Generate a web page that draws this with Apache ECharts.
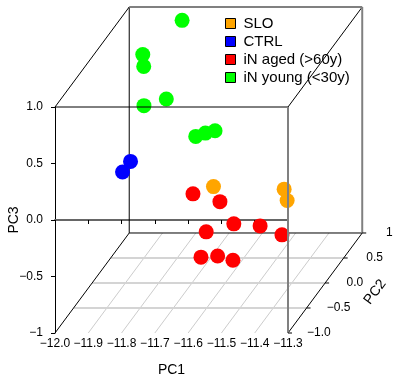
<!DOCTYPE html>
<html>
<head>
<meta charset="utf-8">
<script src="https://cdn.jsdelivr.net/npm/echarts@6/dist/echarts.min.js"></script>
<style>
html, body { margin: 0; padding: 0; background: #fff; }
#chart { width: 393px; height: 381px; }
</style>
</head>
<body>
<div id="chart"></div>
<script>
// axis ticks
var pc1Ticks = [-12.0, -11.9, -11.8, -11.7, -11.6, -11.5, -11.4, -11.3];
var pc2Ticks = [-1.0, -0.5, 0.0, 0.5, 1.0];
var pc3Ticks = [-1.0, -0.5, 0.0, 0.5, 1.0];

var groups = ['SLO', 'CTRL', 'iN aged (>60y)', 'iN young (<30y)'];
var colors = ['#FFA500', '#0000FF', '#FF0000', '#00FF00'];

// samples, one set of arrays per group
var sloPC1 = [-11.680, -11.490, -11.481];
var sloPC2 = [0.4, 0.6, 0.6];
var sloPC3 = [-0.324, -0.435, -0.536];

var ctrlPC1 = [-11.840, -11.864];
var ctrlPC2 = [-0.4, -0.4];
var ctrlPC3 = [0.253, 0.159];

var agedPC1 = [-11.697, -11.616, -11.552, -11.473, -11.635, -11.385, -11.606, -11.556, -11.510];
var agedPC2 = [0.0, 0.0, -0.2, -0.2, -0.2, -0.4, -0.6, -0.6, -0.6];
var agedPC3 = [-0.211, -0.280, -0.388, -0.406, -0.459, -0.397, -0.506, -0.495, -0.533];

var youngPC1 = [-11.830, -11.937, -11.923, -11.844, -11.900, -11.711, -11.682, -11.653];
var youngPC2 = [0.9, 0.8, 0.7, 0.6, 0.5, 0.2, 0.2, 0.2];
var youngPC3 = [0.926, 0.667, 0.607, 0.363, 0.348, 0.209, 0.238, 0.259];

// oblique projection: depth (PC2) shifts right and up
var DX = 0.223;  // in PC1 units over full PC2 range
var DY = 0.885;  // in PC3 units over full PC2 range
var FONT = '"Liberation Sans", Arial, sans-serif';

var xMin = pc1Ticks[0], xMax = pc1Ticks[pc1Ticks.length - 1];
var yMin = pc2Ticks[0], yMax = pc2Ticks[pc2Ticks.length - 1];
var zMin = pc3Ticks[0], zMax = pc3Ticks[pc3Ticks.length - 1];

function proj(x, y, z) {
    var d = (y - yMin) / (yMax - yMin);
    return [x + DX * d, z + DY * d];
}

function fmt(v) {
    return (v < 0 ? '\u2212' : '') + Math.abs(v).toFixed(1);
}

function edgeSeries(segs, color, width, z) {
    return {
        type: 'custom',
        z: z,
        silent: true,
        clip: false,
        dimensions: ['x1', 'y1', 'z1', 'x2', 'y2', 'z2'],
        encode: { x: 0, y: 2 },
        data: segs,
        renderItem: function (params, api) {
            var a = api.coord(proj(api.value(0), api.value(1), api.value(2)));
            var b = api.coord(proj(api.value(3), api.value(4), api.value(5)));
            return {
                type: 'line',
                shape: { x1: a[0], y1: a[1], x2: b[0], y2: b[1] },
                style: { stroke: color, lineWidth: width }
            };
        }
    };
}

function scatterSeries(name, color, xs, ys, zs) {
    return {
        name: name,
        type: 'scatter',
        z: 2,
        clip: false,
        symbolSize: 15,
        itemStyle: { color: color, opacity: 1 },
        emphasis: { disabled: true },
        data: xs.map(function (v, i) { return proj(v, ys[i], zs[i]); })
    };
}

// floor grid
var floorH = pc2Ticks.slice(1, -1).map(function (t) { return [xMin, t, zMin, xMax, t, zMin]; });
var floorD = pc1Ticks.slice(1, -1).map(function (t) { return [t, yMin, zMin, t, yMax, zMin]; });

var backBlack = [
    [xMin, yMax, zMin, xMin, yMax, zMax],
    [xMin, yMax, zMin, xMax, yMax, zMin],
    [xMin, yMin, zMin, xMin, yMax, zMin],
    [xMax, yMin, zMin, xMax, yMax, zMin],
    [xMin, yMin, zMax, xMin, yMax, zMax],
    [xMax, yMin, zMax, xMax, yMax, zMax]
];
var backGray = [
    [xMin, yMax, zMax, xMax, yMax, zMax],
    [xMax, yMax, zMin, xMax, yMax, zMax]
];
var frontBlack = [[xMin, yMin, zMax, xMax, yMin, zMax]];
var frontGray = [[xMax, yMin, zMin, xMax, yMin, zMax]];

// PC2 axis ticks, labels and title
var pc2Axis = {
    type: 'custom',
    z: 3,
    silent: true,
    clip: false,
    data: pc2Ticks.map(function (t) { return [t]; }),
    encode: { x: 0 },
    renderItem: function (params, api) {
        var t = api.value(0);
        var p = api.coord(proj(xMax, t, zMin));
        var off = 19 + params.dataIndex * 1.2;
        var children = [
            { type: 'line', shape: { x1: p[0], y1: p[1], x2: p[0] + 4, y2: p[1] }, style: { stroke: '#000', lineWidth: 1 } },
            { type: 'text', x: p[0] + off, y: p[1], style: { text: fmt(t), font: '12px ' + FONT, fill: '#000', align: 'left', verticalAlign: 'middle' } }
        ];
        if (params.dataIndex === 2) {
            children.push({
                type: 'text', x: p[0] + 50, y: p[1] + 9, rotation: 0.93,
                style: { text: 'PC2', font: '14px ' + FONT, fill: '#000', align: 'center', verticalAlign: 'middle' }
            });
        }
        return { type: 'group', children: children };
    }
};

var chart = echarts.init(document.getElementById('chart'));
chart.setOption({
    animation: false,
    backgroundColor: '#fff',
    textStyle: { fontFamily: FONT },
    grid: { left: 55, top: 107, width: 233, height: 226, containLabel: false, outerBoundsMode: 'none' },
    legend: {
        data: groups,
        orient: 'vertical',
        left: 220,
        top: 11,
        icon: 'rect',
        itemWidth: 10,
        itemHeight: 10,
        itemGap: 3,
        selectedMode: false,
        itemStyle: { borderColor: '#000', borderWidth: 1 },
        textStyle: { fontSize: 15, color: '#000', lineHeight: 15, padding: [0, 0, 0, 3], fontFamily: FONT }
    },
    xAxis: {
        type: 'value',
        min: xMin,
        max: xMax,
        interval: 0.1,
        name: 'PC1',
        nameLocation: 'middle',
        nameGap: 30,
        nameMoveOverlap: false,
        nameTextStyle: { fontSize: 14, color: '#000', fontFamily: FONT },
        axisLine: { show: true, lineStyle: { color: '#666', width: 2 } },
        axisTick: { show: true, length: 4, lineStyle: { color: '#000' } },
        axisLabel: { fontSize: 12, color: '#000', margin: 5, formatter: fmt, showMinLabel: true, showMaxLabel: true },
        splitLine: { show: false }
    },
    yAxis: {
        type: 'value',
        min: zMin,
        max: zMax,
        interval: 0.5,
        name: 'PC3',
        nameLocation: 'middle',
        nameGap: 34,
        nameMoveOverlap: false,
        nameTextStyle: { fontSize: 14, color: '#000', fontFamily: FONT },
        axisLine: { show: true, lineStyle: { color: '#000', width: 1 } },
        axisTick: { show: true, length: 4, lineStyle: { color: '#000' } },
        axisLabel: {
            fontSize: 12, color: '#000', margin: 12,
            formatter: function (v) { return v === -1 ? '\u22121' : fmt(v); }
        },
        splitLine: { show: false }
    },
    series: [
        edgeSeries(floorD, '#cccccc', 1, 0),
        edgeSeries(floorH, '#d4d4d4', 2, 0),
        edgeSeries(backBlack, '#000', 1, 1),
        edgeSeries(backGray, '#808080', 2, 1),
        scatterSeries(groups[1], colors[1], ctrlPC1, ctrlPC2, ctrlPC3),
        scatterSeries(groups[3], colors[3], youngPC1, youngPC2, youngPC3),
        scatterSeries(groups[2], colors[2], agedPC1, agedPC2, agedPC3),
        scatterSeries(groups[0], colors[0], sloPC1, sloPC2, sloPC3),
        edgeSeries(frontBlack, '#000', 1, 3),
        edgeSeries(frontGray, '#808080', 2, 3),
        pc2Axis
    ]
});
</script>
</body>
</html>
